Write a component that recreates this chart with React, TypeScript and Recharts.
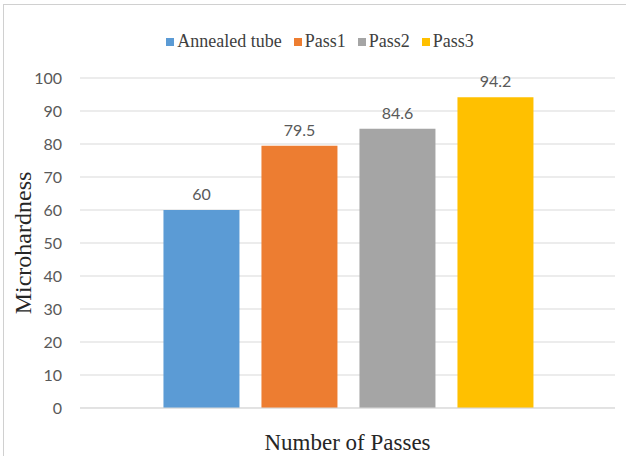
import { BarChart, Bar, XAxis, YAxis, CartesianGrid, Legend, LabelList } from 'recharts'

const categories = ['Passes']
const seriesNames = ['Annealed tube', 'Pass1', 'Pass2', 'Pass3']
const seriesValues = [60, 79.5, 84.6, 94.2]
const COLORS = ['#5B9BD5', '#ED7D31', '#A5A5A5', '#FFC000']
const yTicks = [0, 10, 20, 30, 40, 50, 60, 70, 80, 90, 100]

const keys = seriesNames.map((_, i) => `s${i}`)
const data = categories.map((name) => {
  const row: Record<string, string | number> = { name }
  keys.forEach((k, i) => {
    row[k] = seriesValues[i]
  })
  return row
})

const serif = 'Liberation Serif, Times New Roman, serif'
const sans = 'Lato, Open Sans, sans-serif'

function LegendContent() {
  return (
    <div style={{ display: 'flex', justifyContent: 'center', paddingLeft: 26 }}>
      {seriesNames.map((n, i) => (
        <div key={n} style={{ display: 'flex', alignItems: 'center', marginRight: 12 }}>
          <span style={{ width: 8, height: 8, background: COLORS[i], display: 'inline-block', marginRight: 3 }} />
          <span style={{ fontFamily: serif, fontSize: 18, color: '#404040' }}>{n}</span>
        </div>
      ))}
    </div>
  )
}

export default function App() {
  return (
    <div style={{ position: 'absolute', left: 0, top: 0, width: 626, height: 456, background: '#fff' }}>
      <div style={{ position: 'absolute', left: 3, top: 4, width: 640, height: 470, border: '1px solid #d0d0d0' }} />
      <BarChart
        width={626}
        height={456}
        data={data}
        margin={{ top: 78, right: 11, left: 0, bottom: 0 }}
        barCategoryGap="15.6%"
        barGap={22}
      >
        <CartesianGrid vertical={false} stroke="#d9d9d9" />
        <XAxis
          dataKey="name"
          tick={false}
          tickLine={false}
          axisLine={{ stroke: '#d9d9d9' }}
          height={48}
          label={{ value: 'Number of Passes', position: 'insideBottom', offset: 6, style: { fontFamily: serif, fontSize: 23, fill: '#262626' } }}
        />
        <YAxis
          domain={[0, 100]}
          ticks={yTicks}
          width={80}
          axisLine={false}
          tickLine={false}
          tickMargin={12}
          tick={{ fill: '#595959', fontSize: 16, fontFamily: sans }}
          label={{ value: 'Microhardness', angle: -90, position: 'insideLeft', offset: 22, style: { textAnchor: 'middle', fontFamily: serif, fontSize: 24, fill: '#262626' } }}
        />
        <Legend verticalAlign="middle" align="center" wrapperStyle={{ top: 31, left: 0, width: 626 }} content={LegendContent} />
        {keys.map((k, i) => (
          <Bar key={k} dataKey={k} name={seriesNames[i]} fill={COLORS[i]} isAnimationActive={false}>
            <LabelList dataKey={k} position="top" offset={10} fill="#595959" fontSize={16} fontFamily={sans} />
          </Bar>
        ))}
      </BarChart>
    </div>
  )
}
